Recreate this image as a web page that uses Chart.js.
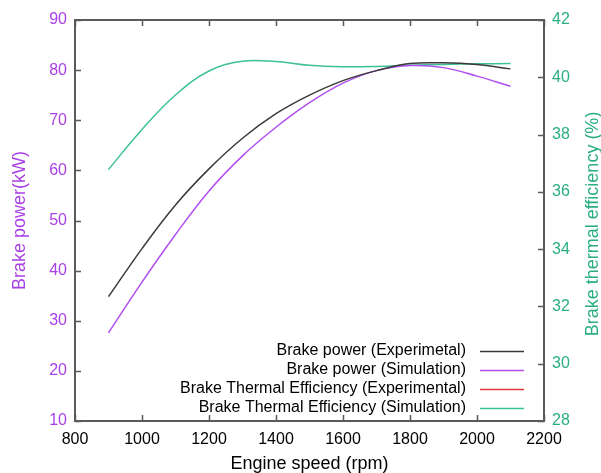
<!DOCTYPE html>
<html>
<head>
<meta charset="utf-8">
<script src="https://cdn.jsdelivr.net/npm/chart.js@4/dist/chart.umd.min.js"></script>
<style>
  html, body { margin: 0; padding: 0; background: #fff; }
  #wrap { width: 601px; height: 473px; }
</style>
</head>
<body>
<div id="wrap"><canvas id="c" width="601" height="473"></canvas></div>
<script>
// engine speed (rpm)
const rpm = [900, 1000, 1100, 1200, 1300, 1400, 1500, 1600, 1700, 1800, 1900, 2000, 2100];

// brake power (kW)
const powerExp = [34.8, 44.4, 53.1, 60.3, 66.4, 71.3, 75.0, 77.9, 79.9, 81.3, 81.45, 81.1, 80.25];
const powerSim = [27.6, 37.7, 47.2, 55.9, 62.9, 68.6, 73.5, 77.4, 79.9, 80.9, 80.5, 78.8, 76.8];

// brake thermal efficiency (%)
const bteExp = [];
const bteSim = [36.78, 38.18, 39.38, 40.22, 40.56, 40.55, 40.42, 40.37, 40.38, 40.42, 40.45, 40.47, 40.48];

const xTicks = [800, 1000, 1200, 1400, 1600, 1800, 2000, 2200];

const PURPLE = '#a93fe6';
const GREEN = '#2aae82';
const FONT = 'Liberation Sans, Arial, sans-serif';

const pts = (ys) => ys.map((v, i) => ({ x: rpm[i], y: v }));

// tick marks pointing inwards + box round the plot
const frame = {
  id: 'frame',
  afterDraw(chart) {
    const { ctx, chartArea: a, scales } = chart;
    ctx.save();
    ctx.strokeStyle = '#5a5a5a';
    ctx.lineWidth = 1.5;
    ctx.beginPath();
    xTicks.forEach(v => {
      const px = Math.round(scales.x.getPixelForValue(v)) + 0.5;
      ctx.moveTo(px, a.bottom); ctx.lineTo(px, a.bottom - 6);
      ctx.moveTo(px, a.top); ctx.lineTo(px, a.top + 6);
    });
    scales.y.ticks.forEach(t => {
      const py = Math.round(scales.y.getPixelForValue(t.value)) + 0.5;
      ctx.moveTo(a.left, py); ctx.lineTo(a.left + 6, py);
    });
    scales.y2.ticks.forEach(t => {
      const py = Math.round(scales.y2.getPixelForValue(t.value)) + 0.5;
      ctx.moveTo(a.right, py); ctx.lineTo(a.right - 6, py);
    });
    ctx.stroke();
    ctx.lineWidth = 2;
    ctx.strokeRect(a.left, a.top, a.right - a.left, a.bottom - a.top);

    // right axis title, reading bottom to top
    ctx.fillStyle = GREEN;
    ctx.font = '18px ' + FONT;
    ctx.textAlign = 'center';
    ctx.textBaseline = 'middle';
    ctx.translate(593, 224);
    ctx.rotate(-Math.PI / 2);
    ctx.fillText('Brake thermal efficiency (%)', 0, 0);
    ctx.restore();
  }
};

// legend: text right aligned, line sample on its right
const sideLegend = {
  id: 'sideLegend',
  afterDraw(chart) {
    const { ctx } = chart;
    ctx.save();
    ctx.font = '16px ' + FONT;
    ctx.textAlign = 'right';
    ctx.textBaseline = 'middle';
    chart.data.datasets.forEach((ds, i) => {
      const y = 351 + i * 19;
      ctx.fillStyle = '#000';
      ctx.fillText(ds.label, 466, y);
      ctx.strokeStyle = ds.borderColor;
      ctx.lineWidth = 1.5;
      ctx.beginPath();
      ctx.moveTo(480, y + 0.5); ctx.lineTo(524, y + 0.5);
      ctx.stroke();
    });
    ctx.restore();
  }
};

const line = (label, data, color, axis) => ({
  label, data, yAxisID: axis,
  borderColor: color, backgroundColor: color,
  borderWidth: 1.5, pointRadius: 0,
  tension: 0.4, fill: false
});

new Chart(document.getElementById('c'), {
  type: 'line',
  data: {
    datasets: [
      line('Brake power (Experimetal)', pts(powerExp), '#3a3a3a', 'y'),
      line('Brake power (Simulation)', pts(powerSim), '#b14ff2', 'y'),
      line('Brake Thermal Efficiency (Experimental)', pts(bteExp), '#e8393b', 'y2'),
      line('Brake Thermal Efficiency (Simulation)', pts(bteSim), '#3cc196', 'y2'),
    ]
  },
  options: {
    responsive: false,
    animation: false,
    layout: { padding: { top: 20 } },
    plugins: { legend: { display: false }, tooltip: { enabled: false } },
    scales: {
      x: {
        type: 'linear', min: 800, max: 2200,
        afterBuildTicks: s => { s.ticks = xTicks.map(v => ({ value: v })); },
        afterFit: s => { s.height = 52; },
        grid: { display: false, drawTicks: false },
        border: { display: false },
        ticks: { padding: 9, color: '#000', font: { family: FONT, size: 16 },
                 callback: v => String(v) },
        title: { display: true, text: 'Engine speed (rpm)', color: '#000',
                 padding: 0, font: { family: FONT, size: 18, lineHeight: 1 } }
      },
      y: {
        position: 'left', min: 10, max: 90,
        afterFit: s => { s.width = 75; },
        grid: { display: false, drawTicks: false },
        border: { display: false },
        ticks: { stepSize: 10, padding: 8, color: PURPLE, font: { family: FONT, size: 16 } },
        title: { display: true, text: 'Brake power(kW)', color: PURPLE,
                 padding: { top: 11, bottom: 0 }, font: { family: FONT, size: 18, lineHeight: 1 } }
      },
      y2: {
        position: 'right', min: 28, max: 42,
        afterFit: s => { s.width = 57; },
        grid: { display: false, drawTicks: false },
        border: { display: false },
        ticks: { stepSize: 2, padding: 8, color: GREEN, font: { family: FONT, size: 16 } }
      }
    }
  },
  plugins: [frame, sideLegend]
});
</script>
</body>
</html>
